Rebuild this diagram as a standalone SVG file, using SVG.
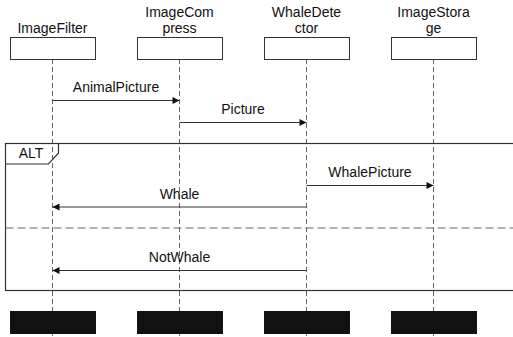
<svg xmlns="http://www.w3.org/2000/svg" width="513" height="337" viewBox="0 0 513 337">
  <style>
    text { font-family: "Liberation Sans", Arial, sans-serif; font-size: 14px; fill: #111; text-anchor: middle; }
    .head { fill: #fff; stroke: #333; stroke-width: 1; }
    .foot { fill: #111; stroke: none; }
    .life { stroke: #666; stroke-width: 1; stroke-dasharray: 5 3; fill: none; }
    .msg { stroke: #333; stroke-width: 1; fill: none; marker-end: url(#arrow); }
    .frame { stroke: #333; stroke-width: 1.2; fill: none; }
    .sep { stroke: #666; stroke-width: 1.2; stroke-dasharray: 8 4; fill: none; }
  </style>
  <defs>
    <marker id="arrow" viewBox="0 0 10 10" refX="10" refY="5" markerWidth="8" markerHeight="7" markerUnits="userSpaceOnUse" orient="auto">
      <path d="M0,0 L10,5 L0,10 Z" fill="#111"/>
    </marker>
  </defs>
  <rect width="513" height="337" fill="#fff"/>

  <!-- lifelines -->
  <g id="lifelines">
    <line class="life" x1="52.5" y1="59" x2="52.5" y2="337"/>
    <line class="life" x1="179.5" y1="59" x2="179.5" y2="337"/>
    <line class="life" x1="306.5" y1="59" x2="306.5" y2="337"/>
    <line class="life" x1="433.5" y1="59" x2="433.5" y2="337"/>
  </g>

  <!-- participants -->
  <g id="imagefilter">
    <text x="52.5" y="33">ImageFilter</text>
    <rect class="head" x="10.5" y="37.5" width="85" height="22"/>
    <rect class="foot" x="10" y="311" width="86" height="23"/>
  </g>
  <g id="imagecompress">
    <text x="179.5" y="17">ImageCom</text>
    <text x="179.5" y="33">press</text>
    <rect class="head" x="137.5" y="37.5" width="85" height="22"/>
    <rect class="foot" x="137" y="311" width="86" height="23"/>
  </g>
  <g id="whaledetector">
    <text x="306.5" y="17">WhaleDete</text>
    <text x="306.5" y="33">ctor</text>
    <rect class="head" x="264.5" y="37.5" width="85" height="22"/>
    <rect class="foot" x="264" y="311" width="86" height="23"/>
  </g>
  <g id="imagestorage">
    <text x="433.5" y="17">ImageStora</text>
    <text x="433.5" y="33">ge</text>
    <rect class="head" x="391.5" y="37.5" width="85" height="22"/>
    <rect class="foot" x="391" y="311" width="86" height="23"/>
  </g>

  <!-- alt combined fragment -->
  <g id="alt">
    <rect class="frame" x="5.5" y="143.5" width="520" height="147"/>
    <path class="frame" d="M5.5,164 L48.5,164 L58.5,153 L58.5,143.5"/>
    <text x="31" y="158">ALT</text>
    <line class="sep" x1="5.5" y1="228" x2="513" y2="228"/>
  </g>

  <!-- messages -->
  <g id="connectors">
    <line class="msg" x1="52.5" y1="100.5" x2="179.5" y2="100.5"/>
    <text x="116" y="92">AnimalPicture</text>
    <line class="msg" x1="179.5" y1="122.5" x2="306.5" y2="122.5"/>
    <text x="243" y="113.5">Picture</text>
    <line class="msg" x1="306.5" y1="185.5" x2="433.5" y2="185.5"/>
    <text x="370" y="177">WhalePicture</text>
    <line class="msg" x1="306.5" y1="207" x2="52.5" y2="207"/>
    <text x="179.5" y="198.5">Whale</text>
    <line class="msg" x1="306.5" y1="270.5" x2="52.5" y2="270.5"/>
    <text x="179.5" y="262">NotWhale</text>
  </g>
</svg>
